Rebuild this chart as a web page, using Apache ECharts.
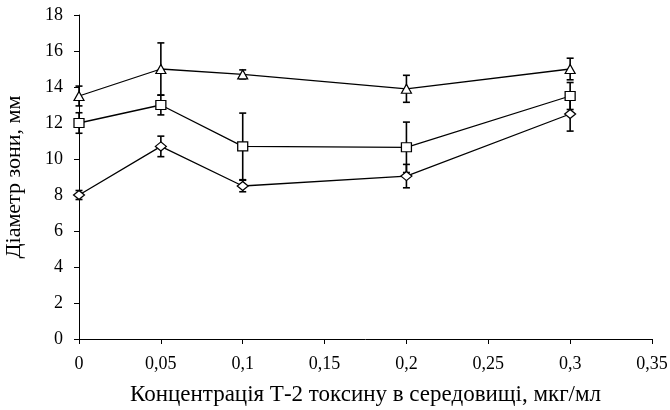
<!DOCTYPE html>
<html><head><meta charset="utf-8">
<script src="https://cdn.jsdelivr.net/npm/echarts@6/dist/echarts.min.js"></script>
<style>html,body{margin:0;padding:0;background:#fff}#c{width:670px;height:410px}</style>
</head><body><div id="c"></div>
<script>
const xValues = [0, 0.05, 0.1, 0.2, 0.3];
const triangleVals = [13.5, 15, 14.7, 13.9, 15];
const triangleErr = [0.55, 1.45, 0.25, 0.75, 0.6];
const squareVals = [12, 13, 10.7, 10.65, 13.5];
const squareErr = [0.57, 0.55, 1.85, 1.4, 0.75];
const diamondVals = [8, 10.7, 8.5, 9.05, 12.5];
const diamondErr = [0.25, 0.57, 0.32, 0.65, 0.95];
const xTickLabels = ['0', '0,05', '0,1', '0,15', '0,2', '0,25', '0,3', '0,35'];
const yTickLabels = ['0', '2', '4', '6', '8', '10', '12', '14', '16', '18'];
const xTitle = 'Концентрація Т-2 токсину в середовищі, мкг/мл';
const yTitle = 'Діаметр зони, мм';

const font = 'Liberation Serif, Times New Roman, serif';
const chart = echarts.init(document.getElementById('c'));

function lineSeries(vals, symbol, size) {
  return {
    type: 'line', z: 3,
    data: xValues.map((x, i) => [x, vals[i]]),
    symbol: symbol, symbolSize: size, showAllSymbol: true,
    lineStyle: { color: '#000', width: 1.3 },
    itemStyle: { color: '#fff', borderColor: '#000', borderWidth: 1.2 },
    emphasis: { disabled: true }, animation: false
  };
}
function errSeries(vals, errs) {
  return {
    type: 'custom', z: 2, animation: false,
    data: xValues.map((x, i) => [x, vals[i] - errs[i], vals[i] + errs[i]]),
    renderItem: function (params, api) {
      const lo = api.coord([api.value(0), api.value(1)]);
      const hi = api.coord([api.value(0), api.value(2)]);
      const w = 3.5;
      const st = { stroke: '#000', lineWidth: 1.6 };
      return { type: 'group', children: [
        { type: 'line', shape: { x1: lo[0], y1: lo[1], x2: hi[0], y2: hi[1] }, style: st },
        { type: 'line', shape: { x1: lo[0] - w, y1: lo[1], x2: lo[0] + w, y2: lo[1] }, style: st },
        { type: 'line', shape: { x1: hi[0] - w, y1: hi[1], x2: hi[0] + w, y2: hi[1] }, style: st }
      ]};
    }
  };
}

chart.setOption({
  backgroundColor: '#fff',
  animation: false,
  grid: { left: 79, right: 18, top: 15, bottom: 71, containLabel: false, outerBoundsMode: 'none' },
  xAxis: {
    type: 'value', min: 0, max: 0.35, interval: 0.05,
    name: xTitle, nameLocation: 'middle', nameGap: 44,
    nameTextStyle: { fontFamily: font, fontSize: 23, color: '#000' },
    axisLine: { lineStyle: { color: '#000', width: 1 } },
    axisTick: { show: true, length: 5, lineStyle: { color: '#000' } },
    splitLine: { show: false },
    axisLabel: { fontFamily: font, fontSize: 18, color: '#000', margin: 16,
      formatter: function (v) { return xTickLabels[Math.round(v / 0.05)]; } }
  },
  yAxis: {
    type: 'value', min: 0, max: 18, interval: 2,
    name: yTitle, nameLocation: 'middle', nameGap: 54, nameRotate: 90,
    nameTextStyle: { fontFamily: font, fontSize: 22, color: '#000' },
    axisLine: { show: true, lineStyle: { color: '#000', width: 1 } },
    axisTick: { show: true, length: 5, lineStyle: { color: '#000' } },
    splitLine: { show: false },
    axisLabel: { fontFamily: font, fontSize: 18, color: '#000', margin: 16,
      formatter: function (v) { return yTickLabels[Math.round(v / 2)]; } }
  },
  series: [
    errSeries(triangleVals, triangleErr),
    errSeries(squareVals, squareErr),
    errSeries(diamondVals, diamondErr),
    lineSeries(triangleVals, 'triangle', [10, 9]),
    lineSeries(squareVals, 'rect', [10, 9]),
    lineSeries(diamondVals, 'diamond', [11, 9])
  ]
});
</script></body></html>
